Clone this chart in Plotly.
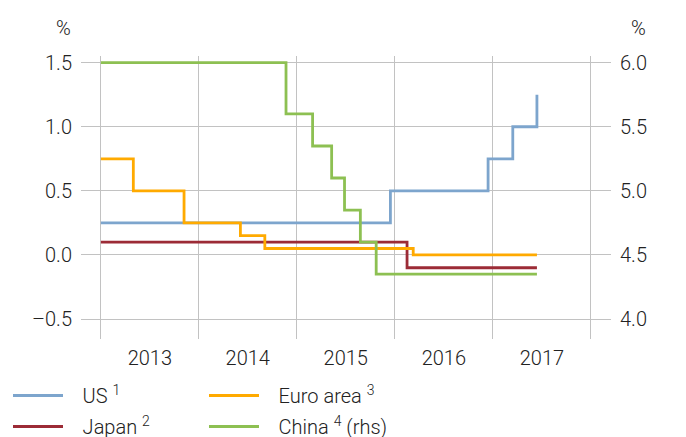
import plotly.graph_objects as go

# ---- data ----
us_dates = ["2013-01-01", "2015-12-16", "2016-12-14", "2017-03-16", "2017-06-14"]
us_vals = [0.25, 0.50, 0.75, 1.00, 1.25]

japan_dates = ["2013-01-01", "2016-02-16", "2017-06-14"]
japan_vals = [0.10, -0.10, -0.10]

euro_dates = ["2013-01-01", "2013-05-02", "2013-11-07", "2014-06-05", "2014-09-04", "2016-03-10", "2017-06-14"]
euro_vals = [0.75, 0.50, 0.25, 0.15, 0.05, 0.00, 0.00]

china_dates = ["2013-01-01", "2014-11-22", "2015-03-01", "2015-05-11", "2015-06-28", "2015-08-26", "2015-10-24", "2017-06-14"]
china_vals = [6.00, 5.60, 5.35, 5.10, 4.85, 4.60, 4.35, 4.35]

left_ticks = [-0.5, 0.0, 0.5, 1.0, 1.5]
left_labels = ["–0.5", "0.0", "0.5", "1.0", "1.5"]
right_ticks = [4.0, 4.5, 5.0, 5.5, 6.0]
right_labels = ["4.0", "4.5", "5.0", "5.5", "6.0"]

PAD = "\u00a0\u00a0\u00a0"
names = {
    "us": PAD + "US <sup>1</sup>",
    "japan": PAD + "Japan <sup>2</sup>",
    "euro": PAD + "Euro area <sup>3</sup>",
    "china": PAD + "China <sup>4</sup> (rhs)",
}

colors = {"us": "#7DA5CD", "japan": "#9C2B36", "euro": "#FFAA00", "china": "#8DC052"}
FONT = "Roboto"
LW = 2.8
TXT = dict(family=FONT, size=20, color="#222222", weight=300)

fig = go.Figure()
fig.add_trace(go.Scatter(x=us_dates, y=us_vals, mode="lines", line=dict(shape="hv", color=colors["us"], width=LW),
                         name=names["us"], legend="legend", legendgroup="a"))
fig.add_trace(go.Scatter(x=japan_dates, y=japan_vals, mode="lines", line=dict(shape="hv", color=colors["japan"], width=LW),
                         name=names["japan"], legend="legend", legendgroup="b"))
fig.add_trace(go.Scatter(x=euro_dates, y=euro_vals, mode="lines", line=dict(shape="hv", color=colors["euro"], width=LW),
                         name=names["euro"], legend="legend2", legendgroup="c"))
fig.add_trace(go.Scatter(x=china_dates, y=china_vals, mode="lines", line=dict(shape="hv", color=colors["china"], width=LW),
                         name=names["china"], legend="legend2", legendgroup="d", yaxis="y2"))

grid = "#C2C2C2"
legend_common = dict(
    orientation="v", xref="container", yref="container", yanchor="top", xanchor="left",
    font=TXT, bgcolor="rgba(0,0,0,0)", itemwidth=50, tracegroupgap=2, itemclick=False,
)

fig.update_layout(
    width=686, height=437,
    margin=dict(l=81, r=75, t=56, b=98, autoexpand=False),
    paper_bgcolor="white", plot_bgcolor="white",
    font=TXT,
    xaxis=dict(
        type="date", range=["2012-10-19", "2018-03-17"],
        tick0="2013-01-01", dtick="M12", tickformat="%Y", ticklabelmode="period",
        showgrid=True, gridcolor=grid, gridwidth=1.4, ticks="", showline=False, zeroline=False,
        tickfont=TXT, tickangle=0, automargin=False, ticklabelstandoff=5,
    ),
    yaxis=dict(
        range=[-0.656, 1.552], tickvals=left_ticks, ticktext=left_labels,
        showgrid=True, gridcolor=grid, gridwidth=1.4, zeroline=False, showline=False, ticks="",
        ticklabelstandoff=8, tickfont=TXT, automargin=False,
    ),
    yaxis2=dict(
        range=[3.844, 6.052], tickvals=right_ticks, ticktext=right_labels,
        overlaying="y", side="right", showgrid=False, zeroline=False, showline=False, ticks="",
        ticklabelstandoff=8, tickfont=TXT, automargin=False,
    ),
    legend=dict(x=8 / 686, y=1 - 376 / 437, **legend_common),
    legend2=dict(x=204 / 686, y=1 - 376 / 437, **legend_common),
    annotations=[
        dict(text="%", xref="paper", yref="paper", x=(63 - 81) / 530, y=(339 - 28) / 283,
             xanchor="center", yanchor="middle", showarrow=False, font=TXT),
        dict(text="%", xref="paper", yref="paper", x=(638 - 81) / 530, y=(339 - 28) / 283,
             xanchor="center", yanchor="middle", showarrow=False, font=TXT),
    ],
)

fig.write_html("out.html", config={"displayModeBar": False},
               post_script="document.body.style.margin='0';document.body.style.padding='0';")
